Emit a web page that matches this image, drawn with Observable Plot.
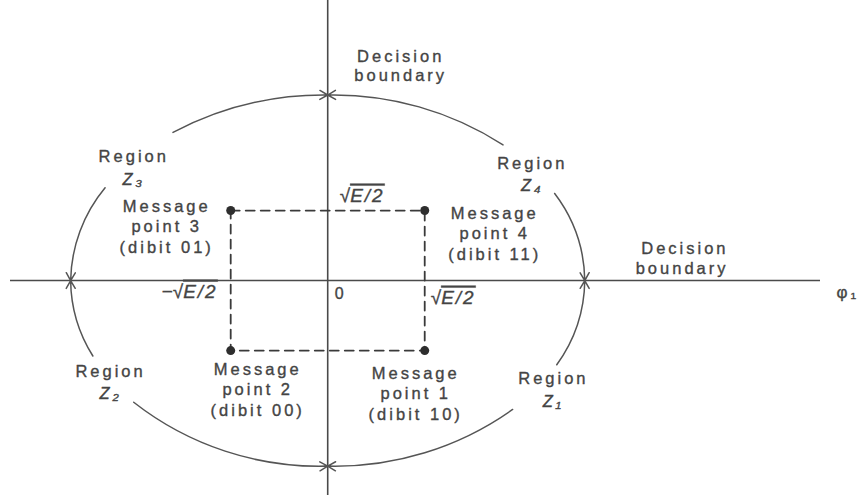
<!DOCTYPE html>
<html><head><meta charset="utf-8">
<script src="https://cdn.jsdelivr.net/npm/d3@7"></script>
<script src="https://cdn.jsdelivr.net/npm/@observablehq/plot@0.6"></script>
<style>body{margin:0;background:#fff}</style>
</head><body><div id="chart"></div>
<script>
// ---- Data (signal-space coordinates, unit = sqrt(E/2)) ----
const pointIds = [1, 2, 3, 4];
const pointX   = [1, -1, -1, 1];
const pointY   = [-1, -1, 1, 1];
const dibits   = ["10", "00", "01", "11"];
const squareOrder = [3, 4, 1, 2, 3];          // dashed square path
const circleRadius = 2.65;                     // decision circle radius
// decision-circle arc segments: from (label gap) -> to (boundary crossing), degrees
const arcFrom = [127, 47, 150, 204, 221, 316, 28, 333];
const arcTo   = [90, 90, 180, 180, 270, 270, 0, 360];
// region labels
const regionNames  = ["Z₁", "Z₂", "Z₃", "Z₄"];
const regionAngles = [-33.5, 212.7, 140.8, 36.1];
const regionRadii  = [2.79, 2.66, 2.58, 2.61];
// axis value labels
const tickText = ["√E/2", "√E/2", "−√E/2", "0"];
const tickX    = [0, 1, -1, 0];
const tickY    = [1, 0, 0, 0];

// ---- Layout / style ----
const W = 858, H = 495;
const xDomain = [-3.27, 5.08], yDomain = [-3.07, 4.0];
const ml = 10, mr = 38;
const pxX = (W - ml - mr) / (xDomain[1] - xDomain[0]);
const pxY = H / (yDomain[1] - yDomain[0]);
const ink = "#444";
const font = {fontFamily: "Liberation Sans, Arial, sans-serif", fill: ink, stroke: ink, strokeWidth: 0.35};
const FS = 16.5;
const msgOffsets = {1: [-9, 42], 2: [27, 38], 3: [-64, 15], 4: [70, 22]};
const tickOffsets = [[12, -15, "start"], [6, 17, "start"], [-13, 11, "end"], [13, 13, "middle"]];

const points = pointIds.map((id, i) => ({id, x: pointX[i], y: pointY[i], dibit: dibits[i]}));
const byId = Object.fromEntries(points.map(p => [p.id, p]));
const squarePath = squareOrder.map(id => byId[id]);
const rad = d => d * Math.PI / 180;

// bend for an arrow approximating the elliptical (in pixels) arc between two angles
const A = pxX * circleRadius, B = pxY * circleRadius;
const tangentAngle = t => Math.atan2(B * Math.cos(rad(t)), -A * Math.sin(rad(t))) * 180 / Math.PI;
function bendFor(t1, t2) {
  let d = tangentAngle(t2) - tangentAngle(t1);
  while (d > 180) d -= 360; while (d < -180) d += 360;
  const m = Math.abs(d) / 2;
  return t2 > t1 ? -m : m;
}

const arcMarks = arcFrom.map((a, i) => Plot.arrow([{a, b: arcTo[i]}], {
  x1: d => circleRadius * Math.cos(rad(d.a)), y1: d => circleRadius * Math.sin(rad(d.a)),
  x2: d => circleRadius * Math.cos(rad(d.b)), y2: d => circleRadius * Math.sin(rad(d.b)),
  bend: bendFor(a, arcTo[i]), stroke: "#555", strokeWidth: 1.5, headLength: 9, headAngle: 60
}));

const msgMarks = points.map(p => Plot.text([p], {
  x: "x", y: "y", text: d => `Message\npoint ${d.id}\n(dibit ${d.dibit})`,
  dx: msgOffsets[p.id][0], dy: msgOffsets[p.id][1], fontSize: FS, lineHeight: 1.25, ...font
}));

const regions = regionNames.map((n, i) => ({
  label: `Region\n${n}`,
  x: regionRadii[i] * Math.cos(rad(regionAngles[i])),
  y: regionRadii[i] * Math.sin(rad(regionAngles[i]))
}));

const tickMarks = tickText.map((t, i) => Plot.text([{t, x: tickX[i], y: tickY[i]}], {
  x: "x", y: "y", text: "t", dx: tickOffsets[i][0], dy: tickOffsets[i][1],
  textAnchor: tickOffsets[i][2], fontSize: i === 3 ? 16 : 19, ...font
}));

const chart = Plot.plot({
  width: W, height: H,
  marginLeft: ml, marginRight: mr, marginTop: 0, marginBottom: 0,
  x: {domain: xDomain, axis: null},
  y: {domain: yDomain, axis: null},
  style: {background: "#fff", letterSpacing: "3px", overflow: "visible"},
  marks: [
    Plot.ruleY([0], {stroke: "#4a4a4a", strokeWidth: 1.6}),
    Plot.ruleX([0], {stroke: "#4a4a4a", strokeWidth: 1.6}),
    ...arcMarks,
    Plot.line(squarePath, {x: "x", y: "y", stroke: "#3a3a3a", strokeWidth: 1.8, strokeDasharray: "9,6"}),
    Plot.dot(points, {x: "x", y: "y", r: 4.5, fill: "#2e2e2e"}),
    ...msgMarks,
    Plot.text(regions, {x: "x", y: "y", text: "label", fontSize: FS, lineHeight: 1.35, ...font}),
    ...tickMarks,
    Plot.text(["Decision\nboundary"], {x: 0, frameAnchor: "top", dx: 73, dy: 47, fontSize: FS, lineHeight: 1.2, ...font}),
    Plot.text(["Decision\nboundary"], {y: 0, frameAnchor: "right", dx: -92, dy: -23, fontSize: FS, lineHeight: 1.2, ...font}),
    Plot.text(["φ₁"], {y: 0, frameAnchor: "right", dx: 16, dy: 12, textAnchor: "start", fontSize: 17, ...font})
  ]
});
document.getElementById("chart").appendChild(chart);

// typographic touches: italic region names, radical with overline
chart.querySelectorAll("tspan").forEach(ts => {
  if (/^Z/.test(ts.textContent)) ts.setAttribute("font-style", "italic");
});
chart.querySelectorAll("text").forEach(t => {
  const s = t.textContent;
  if (s.includes("√") && !t.querySelector("tspan")) {
    const [pre, rest] = s.split("√");
    t.textContent = "";
    const a = document.createElementNS("http://www.w3.org/2000/svg", "tspan");
    a.textContent = pre + "√";
    a.setAttribute("letter-spacing", "0");
    const b = document.createElementNS("http://www.w3.org/2000/svg", "tspan");
    b.textContent = rest;
    b.setAttribute("font-style", "italic");
    b.setAttribute("letter-spacing", "2");
    b.setAttribute("style", "text-decoration: overline");
    t.appendChild(a); t.appendChild(b);
  }
});
</script>
</body></html>
